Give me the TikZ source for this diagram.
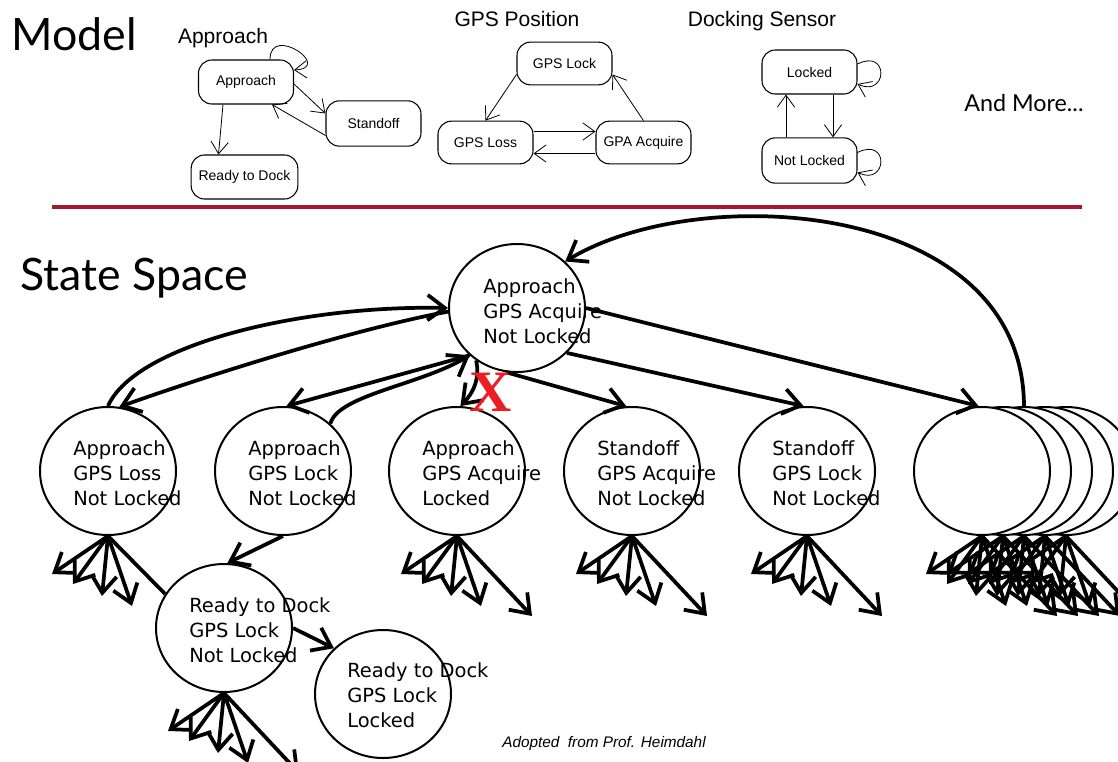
\documentclass[tikz,border=0pt]{standalone}
\usepackage{fontspec}
\setmainfont{Liberation Sans}
\newfontfamily\gillf{Lato}
\newfontfamily\dvf{DejaVu Sans}
\newfontfamily\serf{Liberation Serif}
\usetikzlibrary{arrows.meta,calc,shapes.geometric}
\definecolor{rulecol}{RGB}{160,25,45}
\definecolor{xred}{RGB}{235,30,35}
\newcommand{\myfanfour}[1]{%
  \draw[big] (#1.south) -- ++(-56,38);
  \draw[big] (#1.south) -- ++(-35,48);
  \draw[big] (#1.south) -- ++(-6,60);
  \draw[big] (#1.south) -- ++(24,70);}
\newcommand{\myfanfive}[1]{%
  \myfanfour{#1}
  \draw[big] (#1.south) -- ++(75,80);}
\begin{document}
\begin{tikzpicture}[x=0.75pt,y=-0.75pt,
  mbox/.style={draw, line width=0.8pt, rounded corners=10pt, minimum width=71.25pt, minimum height=33pt, inner sep=0pt, font=\fontsize{10.5}{12}\selectfont},
  marr/.style={line width=0.6pt, -{Straight Barb[length=9pt,width=13pt]}},
  mtitle/.style={font=\fontsize{15.75}{18}\selectfont, anchor=base, inner sep=0pt},
  st/.style={draw, ellipse, line width=1.5pt, fill=white, minimum width=102pt, minimum height=96pt, inner sep=0pt},
  stt/.style={anchor=west, align=left, inner sep=0pt, font=\dvf\fontsize{14.6}{18.75}\selectfont},
  big/.style={line width=2.8pt, line join=round, -{Straight Barb[length=13pt,width=19pt]}},
  bigline/.style={line width=2.8pt},
]
\useasboundingbox (0,0) rectangle (1118,761);

% ---------- headings ----------
\node[anchor=base west, inner sep=0pt, font=\gillf\fontsize{33.5}{36}\selectfont] (model) at (11,50) {Model};
\node[anchor=base west, inner sep=0pt, font=\gillf\fontsize{33.5}{36}\selectfont] (ss) at (20,290) {State Space};
\node[anchor=base west, inner sep=0pt, font=\gillf\fontsize{17.5}{20}\selectfont] (more) at (964,111) {And More...};

% ---------- rule ----------
\coordinate (ruleL) at (52,207);
\coordinate (ruleR) at (1082,207);
\draw[rulecol, line width=3pt] (ruleL) -- (ruleR);

% ---------- Approach model ----------
\node[mtitle] (tA) at (223,43) {Approach};
\node[mbox] (appr) at (246,82) {Approach};
\node[mbox, minimum height=34pt] (stand) at (373.5,123.5) {Standoff};
\node[mbox, minimum width=80pt] (ready) at (244.5,177) {Ready to Dock};
\draw[marr] ($(appr.north)+(24,0)$) .. controls +(0,-36) and +(40,-2) .. ($(appr.east)+(0,-12)$);
\draw[marr] ($(appr.east)+(0,2)$) -- ($(stand.west)+(0,-10)$);
\draw[marr] ($(stand.west)+(0,12)$) -- ($(appr.south)+(26,0)$);
\draw[marr] ($(appr.south)+(-23,0)$) -- ($(ready.north)+(-26,0)$);

% ---------- GPS model ----------
\node[mtitle] (tG) at (517,26) {GPS Position};
\node[mbox, minimum height=32pt] (glock) at (564.5,63.5) {GPS Lock};
\node[mbox, minimum height=32pt] (gloss) at (485.5,142.5) {GPS Loss};
\node[mbox, minimum height=32pt] (gacq) at (643.5,142.5) {GPA Acquire};
\draw[marr] ($(glock.west)+(0,11)$) -- (gloss.north);
\draw[marr] (gacq.north) -- ($(glock.east)+(0,11)$);
\draw[marr] ($(gloss.east)+(0,-11)$) -- ($(gacq.west)+(0,-11)$);
\draw[marr] ($(gacq.west)+(0,11)$) -- ($(gloss.east)+(0,11)$);

% ---------- Docking model ----------
\node[mtitle] (tD) at (762,26) {Docking Sensor};
\node[mbox] (lock) at (809.5,72) {Locked};
\node[mbox, minimum height=34pt] (nlock) at (809.5,160.5) {Not Locked};
\draw[marr] ($(nlock.north)+(-23.5,0)$) -- ($(lock.south)+(-23.5,0)$);
\draw[marr] ($(lock.south)+(23.5,0)$) -- ($(nlock.north)+(23.5,0)$);
\draw[marr] ($(lock.east)+(0,-8)$) .. controls +(32,-16) and +(30,14) .. ($(lock.east)+(0,12)$);
\draw[marr] ($(nlock.east)+(0,-8)$) .. controls +(32,-16) and +(30,14) .. ($(nlock.east)+(0,12)$);

% ---------- State space nodes ----------
\node[st] (top) at (517,308) {};
\node[st] (n1) at (108,471) {};
\node[st] (n2) at (283,471) {};
\node[st] (n3) at (457,471) {};
\node[st] (n4) at (632,471) {};
\node[st] (n5) at (807,471) {};
\node[st] (n6e) at (1066,471) {};
\node[st] (n6d) at (1045,471) {};
\node[st] (n6c) at (1024,471) {};
\node[st] (n6b) at (1003,471) {};
\node[st] (n6a) at (982,471) {};
\node[st] (r1) at (224,628) {};
\node[st] (r2) at (383,694) {};

% ---------- State space connectors ----------
\draw[big] (n1.north) .. controls (135,345) and (300,305) .. (top.west);
\draw[big] (top.183) .. controls (350,330) and (200,378) .. (n1.80);
\draw[big] (top.-135) -- (n2.87);
\draw[big] (n2.45) .. controls (338,395) and (420,385) .. (top.-135);
\draw[big] (top.-128) .. controls (480,378) and (474,392) .. (n3.87);
\draw[big] (top.-100) -- (n4.95);
\draw[big] (top.-42) -- (n5.93);
\draw[big] (top.east) -- (n6a.93);
\draw[big] (n6c.north) .. controls (1023,200) and (700,180) .. (top.44);
\draw[big] (n2.south) -- (r1.87);
\draw[big] (r1.east) -- (r2.137);
\draw[bigline] (n1.south) -- (r1.150);

% ---------- fans ----------
\myfanfour{n1}
\myfanfive{n3}
\myfanfive{n4}
\myfanfive{n5}
\myfanfive{n6e}
\myfanfive{n6d}
\myfanfive{n6c}
\myfanfive{n6b}
\myfanfive{n6a}
\myfanfive{r1}

% ---------- red X ----------
\node[text=xred, font=\serf\bfseries\fontsize{44}{44}\selectfont, inner sep=0pt] (xmark) at (491,392) {X};

% ---------- state texts ----------
\node[stt] (topT) at ($(top)+(-34,3)$) {Approach\\GPS Acquire\\Not Locked};
\node[stt] (n1T) at ($(n1)+(-35,2)$) {Approach\\GPS Loss\\Not Locked};
\node[stt] (n2T) at ($(n2)+(-35,2)$) {Approach\\GPS Lock\\Not Locked};
\node[stt] (n3T) at ($(n3)+(-35,2)$) {Approach\\GPS Acquire\\Locked};
\node[stt] (n4T) at ($(n4)+(-35,2)$) {Standoff\\GPS Acquire\\Not Locked};
\node[stt] (n5T) at ($(n5)+(-35,2)$) {Standoff\\GPS Lock\\Not Locked};
\node[stt] (r1T) at ($(r1)+(-35,2)$) {Ready to Dock\\GPS Lock\\Not Locked};
\node[stt] (r2T) at ($(r2)+(-36,1)$) {Ready to Dock\\GPS Lock\\Locked};

% ---------- footer ----------
\node[inner sep=0pt, font=\itshape\fontsize{11.5}{13}\selectfont] (foot) at (604,744) {Adopted\ \ from Prof. Heimdahl};
\end{tikzpicture}
\end{document}
